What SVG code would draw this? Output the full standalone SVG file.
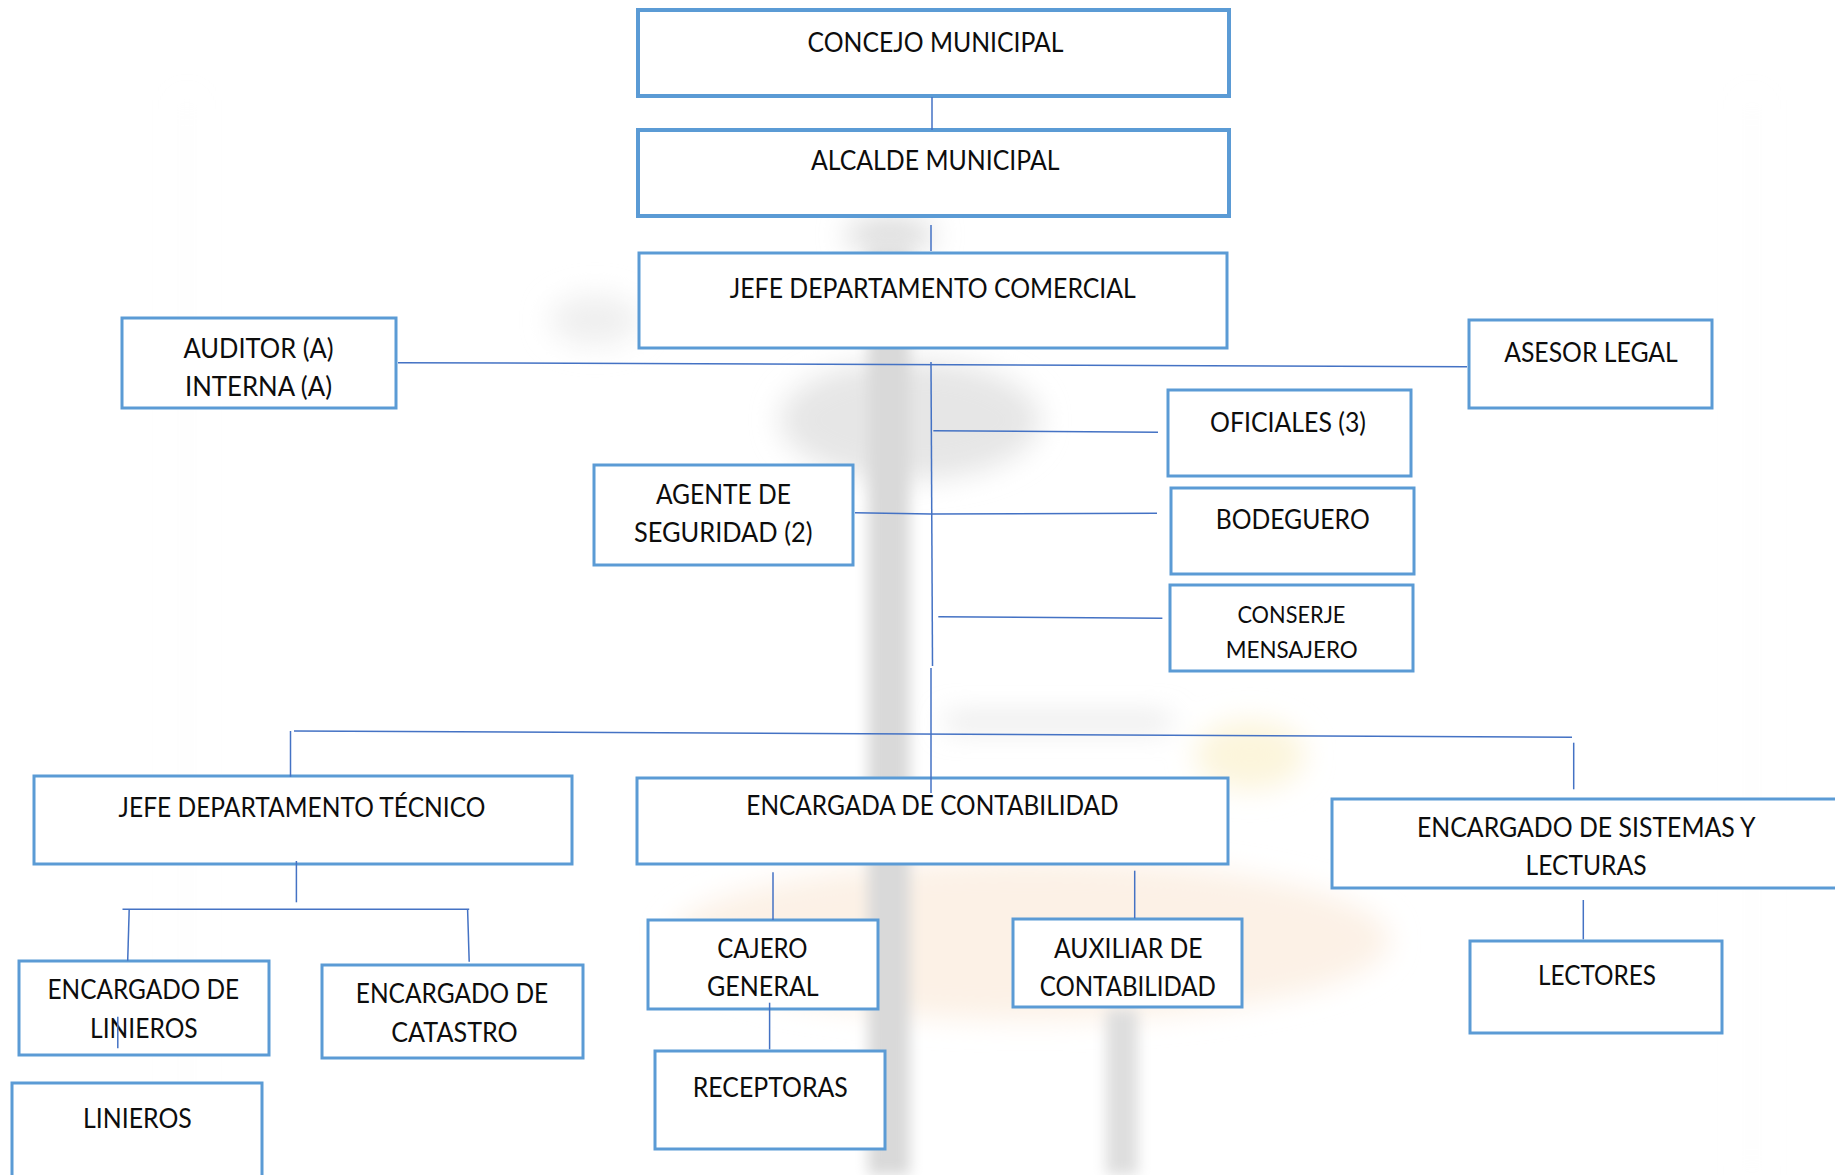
<svg xmlns="http://www.w3.org/2000/svg" width="1835" height="1175" viewBox="0 0 1835 1175">
<style>
.box{fill:#ffffff;stroke:#5B9BD5;stroke-width:3}
.thick{stroke-width:4}
.t{font-family:Lato,"Open Sans","Liberation Sans",sans-serif;font-size:26px;fill:#0d0d0d;text-anchor:middle}
.s{font-size:24px}
.c{fill:none;stroke:#4472C4;stroke-width:1.5}
</style>
<defs>
<filter id="blur" x="-30%" y="-30%" width="160%" height="160%"><feGaussianBlur stdDeviation="14"/></filter>
<filter id="blur2" x="-50%" y="-5%" width="200%" height="110%"><feGaussianBlur stdDeviation="7"/></filter>
</defs>
<rect width="1835" height="1175" fill="#ffffff"/>
<g id="watermark">
<g filter="url(#blur)">
<line x1="187" y1="100" x2="187" y2="1175" stroke="#f4f4f4" stroke-width="3"/>
<line x1="1752" y1="100" x2="1752" y2="1175" stroke="#f5f5f5" stroke-width="3"/>
<ellipse cx="1030" cy="940" rx="360" ry="80" fill="#fcf1e6"/>
<ellipse cx="1250" cy="755" rx="55" ry="35" fill="#fcf5dc"/>
<ellipse cx="890" cy="235" rx="45" ry="18" fill="#dddddd"/>
<ellipse cx="910" cy="420" rx="130" ry="60" fill="#e6e6e6"/>
<ellipse cx="595" cy="320" rx="45" ry="25" fill="#efefef"/>
<rect x="946" y="716" width="224" height="12" fill="#dedede"/>
</g>
<g filter="url(#blur2)">
<rect x="868" y="250" width="42" height="925" fill="#d9d9d9"/>
<rect x="1106" y="1009" width="32" height="166" fill="#dedede"/>
</g>
</g>
<g id="n-concejo"><rect class="box thick" x="638" y="10" width="591" height="86"/><text class="t" x="935.6" y="51.7" textLength="256" lengthAdjust="spacingAndGlyphs">CONCEJO MUNICIPAL</text></g>
<g id="n-alcalde"><rect class="box thick" x="638" y="130" width="591" height="86"/><text class="t" x="935.2" y="170" textLength="248.6" lengthAdjust="spacingAndGlyphs">ALCALDE MUNICIPAL</text></g>
<g id="n-comercial"><rect class="box" x="639" y="253" width="588" height="95"/><text class="t" x="932.8" y="297.7" textLength="406" lengthAdjust="spacingAndGlyphs">JEFE DEPARTAMENTO COMERCIAL</text></g>
<g id="n-auditor"><rect class="box" x="122" y="318" width="274" height="90"/><text class="t" x="258.5" y="358" textLength="150" lengthAdjust="spacingAndGlyphs">AUDITOR (A)</text><text class="t" x="258.5" y="396" textLength="147" lengthAdjust="spacingAndGlyphs">INTERNA (A)</text></g>
<g id="n-asesor"><rect class="box" x="1469" y="320" width="243" height="88"/><text class="t" x="1591" y="361.7" textLength="173.6" lengthAdjust="spacingAndGlyphs">ASESOR LEGAL</text></g>
<g id="n-oficiales"><rect class="box" x="1168" y="390" width="243" height="86"/><text class="t" x="1288" y="431.7" textLength="156" lengthAdjust="spacingAndGlyphs">OFICIALES (3)</text></g>
<g id="n-bodeguero"><rect class="box" x="1171" y="488" width="243" height="86"/><text class="t" x="1292.7" y="529.3" textLength="154" lengthAdjust="spacingAndGlyphs">BODEGUERO</text></g>
<g id="n-conserje"><rect class="box" x="1170" y="585" width="243" height="86"/><text class="t s" x="1291.4" y="622.7" textLength="108" lengthAdjust="spacingAndGlyphs">CONSERJE</text><text class="t s" x="1291.7" y="657.7" textLength="132" lengthAdjust="spacingAndGlyphs">MENSAJERO</text></g>
<g id="n-agente"><rect class="box" x="594" y="465" width="259" height="100"/><text class="t" x="723.4" y="504" textLength="135" lengthAdjust="spacingAndGlyphs">AGENTE DE</text><text class="t" x="723.2" y="541.5" textLength="178.6" lengthAdjust="spacingAndGlyphs">SEGURIDAD (2)</text></g>
<g id="n-tecnico"><rect class="box" x="34" y="776" width="538" height="88"/><text class="t" x="302" y="817.3" textLength="366.8" lengthAdjust="spacingAndGlyphs">JEFE DEPARTAMENTO TÉCNICO</text></g>
<g id="n-enc-linieros"><rect class="box" x="19" y="961" width="250" height="94"/><text class="t" x="143.3" y="999.3" textLength="191.6" lengthAdjust="spacingAndGlyphs">ENCARGADO DE</text><text class="t" x="143.9" y="1038.3" textLength="107.6" lengthAdjust="spacingAndGlyphs">LINIEROS</text></g>
<g id="n-catastro"><rect class="box" x="322" y="965" width="261" height="93"/><text class="t" x="452" y="1002.7" textLength="192.5" lengthAdjust="spacingAndGlyphs">ENCARGADO DE</text><text class="t" x="454.5" y="1041.7" textLength="126.5" lengthAdjust="spacingAndGlyphs">CATASTRO</text></g>
<g id="n-linieros"><rect class="box" x="12" y="1083" width="250" height="110"/><text class="t" x="137.4" y="1128.3" textLength="108.7" lengthAdjust="spacingAndGlyphs">LINIEROS</text></g>
<g id="n-contabilidad"><rect class="box" x="637" y="778" width="591" height="86"/><text class="t" x="932.5" y="815" textLength="372.4" lengthAdjust="spacingAndGlyphs">ENCARGADA DE CONTABILIDAD</text></g>
<g id="n-cajero"><rect class="box" x="648" y="920" width="230" height="89"/><text class="t" x="762.4" y="957.7" textLength="90.2" lengthAdjust="spacingAndGlyphs">CAJERO</text><text class="t" x="762.9" y="996" textLength="111.6" lengthAdjust="spacingAndGlyphs">GENERAL</text></g>
<g id="n-receptoras"><rect class="box" x="655" y="1051" width="230" height="98"/><text class="t" x="770.3" y="1097.3" textLength="155" lengthAdjust="spacingAndGlyphs">RECEPTORAS</text></g>
<g id="n-auxiliar"><rect class="box" x="1013" y="919" width="229" height="88"/><text class="t" x="1128.3" y="957.7" textLength="148.7" lengthAdjust="spacingAndGlyphs">AUXILIAR DE</text><text class="t" x="1127.8" y="996" textLength="176.3" lengthAdjust="spacingAndGlyphs">CONTABILIDAD</text></g>
<g id="n-sistemas"><rect class="box" x="1332" y="799" width="530" height="89"/><text class="t" x="1586.3" y="836.7" textLength="338.6" lengthAdjust="spacingAndGlyphs">ENCARGADO DE SISTEMAS Y</text><text class="t" x="1586" y="875" textLength="121" lengthAdjust="spacingAndGlyphs">LECTURAS</text></g>
<g id="n-lectores"><rect class="box" x="1470" y="941" width="252" height="92"/><text class="t" x="1597" y="985" textLength="118" lengthAdjust="spacingAndGlyphs">LECTORES</text></g>
<g id="connectors">
<line class="c" x1="932" y1="97" x2="932" y2="130"/>
<line class="c" x1="931" y1="225" x2="931" y2="251"/>
<line class="c" x1="398" y1="362.7" x2="1467" y2="366.7"/>
<line class="c" x1="931" y1="362" x2="932.5" y2="666"/>
<line class="c" x1="931" y1="668" x2="931" y2="793"/>
<line class="c" x1="933.3" y1="430.7" x2="1158" y2="432.3"/>
<polyline class="c" points="855,512.7 931,514 1157,513.3"/>
<line class="c" x1="938.3" y1="616.7" x2="1162.4" y2="618.3"/>
<line class="c" x1="294" y1="731" x2="1572" y2="737.3"/>
<line class="c" x1="290.5" y1="731" x2="290.5" y2="776.7"/>
<line class="c" x1="1573.7" y1="742.7" x2="1573.7" y2="789.3"/>
<line class="c" x1="296.4" y1="861" x2="296.4" y2="902.3"/>
<line class="c" x1="122.5" y1="909.3" x2="469.2" y2="909.3"/>
<line class="c" x1="129.2" y1="909.3" x2="127.7" y2="960.7"/>
<line class="c" x1="467.6" y1="909.3" x2="469.2" y2="961.7"/>
<line class="c" x1="117.8" y1="1016.7" x2="117.8" y2="1048.3"/>
<line class="c" x1="773" y1="872.3" x2="773" y2="920"/>
<line class="c" x1="1134.7" y1="870.7" x2="1134.7" y2="918.3"/>
<line class="c" x1="769.6" y1="1002.7" x2="769.6" y2="1049.3"/>
<line class="c" x1="1583.3" y1="900" x2="1583.3" y2="939.3"/>
</g>
</svg>
